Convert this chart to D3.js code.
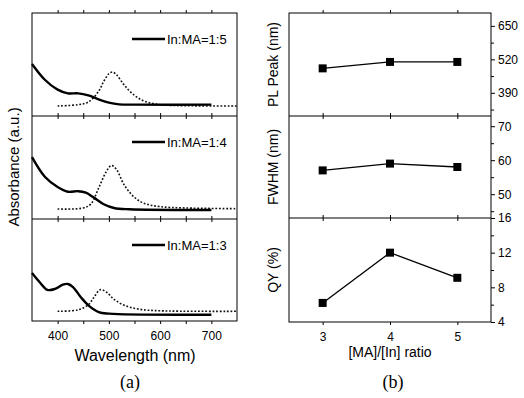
<!DOCTYPE html>
<html>
<head>
<meta charset="utf-8">
<script src="https://cdn.jsdelivr.net/npm/d3@7"></script>
<style>
body { margin: 0; background: #fff; }
svg { display: block; font-family: Arial, "Liberation Sans", sans-serif; }
</style>
</head>
<body>
<div id="chart"></div>
<script>
// panel (a): absorbance (solid) and PL (dotted) spectra, arbitrary units
var labels = ["In:MA=1:5", "In:MA=1:4", "In:MA=1:3"];
var absWl = [
    [350, 375, 400, 420, 440, 460, 480, 500, 520, 550, 700],
    [350, 375, 400, 420, 440, 455, 470, 490, 510, 540, 700],
    [350, 365, 380, 395, 410, 420, 430, 445, 460, 480, 500, 700]
];
var absVal = [
    [0.505, 0.352, 0.256, 0.22, 0.22, 0.20, 0.162, 0.13, 0.113, 0.11, 0.11],
    [0.60, 0.41, 0.31, 0.265, 0.27, 0.255, 0.21, 0.143, 0.107, 0.094, 0.087],
    [0.47, 0.38, 0.305, 0.315, 0.356, 0.363, 0.333, 0.235, 0.154, 0.088, 0.072, 0.062]
];
var plWl = [
    [400, 440, 460, 480, 490, 500, 507, 515, 530, 550, 570, 600, 650, 750],
    [400, 450, 465, 480, 495, 505, 515, 530, 550, 570, 600, 650, 750],
    [400, 440, 460, 470, 483, 495, 510, 530, 560, 600, 750]
];
var plVal = [
    [0.097, 0.11, 0.136, 0.24, 0.337, 0.41, 0.427, 0.40, 0.30, 0.20, 0.143, 0.11, 0.10, 0.097],
    [0.097, 0.107, 0.146, 0.30, 0.46, 0.52, 0.48, 0.33, 0.21, 0.15, 0.12, 0.107, 0.10],
    [0.095, 0.11, 0.16, 0.225, 0.307, 0.284, 0.213, 0.154, 0.115, 0.10, 0.095]
];
var wlTicks = [400, 500, 600, 700];

// panel (b): ratio dependence
var ratio = [3, 4, 5];
var plPeak = [485, 510, 510];
var fwhm = [57, 59, 58];
var qy = [6.2, 12, 9.1];
var bNames = ["PL Peak (nm)", "FWHM (nm)", "QY (%)"];
var bData = [plPeak, fwhm, qy];
var bDomains = [[300, 700], [43, 73], [4, 16]];
var bMajor = [[390, 520, 650], [50, 60, 70], [4, 8, 12, 16]];
var bMinor = [[325, 455, 585], [45, 55, 65], [6, 10, 14]];

var width = 524, height = 398;
var svg = d3.select("#chart").append("svg")
    .attr("width", width)
    .attr("height", height);

// ----- panel (a)
var aEdges = [13, 116, 219, 321];
var xA = d3.scaleLinear().domain([350, 750]).range([32, 237]);

for (var i = 0; i < 3; i++) {
    var y = d3.scaleLinear().domain([0, 1]).range([aEdges[i + 1], aEdges[i]]);
    var g = svg.append("g");
    var line = d3.line()
        .x(function(d) { return xA(d[0]); })
        .y(function(d) { return y(d[1]); })
        .curve(d3.curveCatmullRom.alpha(0.5));
    var solid = d3.zip(absWl[i], absVal[i]);
    var dotted = d3.zip(plWl[i], plVal[i]);
    g.append("path").datum(dotted).attr("d", line)
        .attr("fill", "none").attr("stroke", "#111")
        .attr("stroke-width", 1.6).attr("stroke-dasharray", "1.8,1.8");
    g.append("path").datum(solid).attr("d", line)
        .attr("fill", "none").attr("stroke", "#000")
        .attr("stroke-width", 2.4);

    // ticks inward top and bottom
    g.append("g").attr("transform", "translate(0," + aEdges[i] + ")")
        .call(d3.axisBottom(xA).tickValues(d3.range(400, 750, 50)).tickSize(-3).tickFormat(""))
        .call(function(s) { s.select(".domain").remove(); });
    g.append("g").attr("transform", "translate(0," + aEdges[i + 1] + ")")
        .call(d3.axisTop(xA).tickValues(d3.range(400, 750, 50)).tickSize(-3).tickFormat(""))
        .call(function(s) { s.select(".domain").remove(); });

    // legend
    var ly = aEdges[i] + 26;
    g.append("line").attr("x1", 132).attr("x2", 165).attr("y1", ly).attr("y2", ly)
        .attr("stroke", "#000").attr("stroke-width", 2.4);
    g.append("text").attr("x", 167).attr("y", ly).attr("dy", "0.36em")
        .style("font-size", "13px").text(labels[i]);
}
svg.append("rect").attr("x", 32).attr("y", 13).attr("width", 205).attr("height", 308)
    .attr("fill", "none").attr("stroke", "#000");
svg.selectAll(".adiv").data([116, 219]).enter().append("line")
    .attr("x1", 32).attr("x2", 237).attr("y1", function(d) { return d; }).attr("y2", function(d) { return d; })
    .attr("stroke", "#000");

svg.append("g").attr("transform", "translate(0,321)")
    .call(d3.axisBottom(xA).tickValues(wlTicks).tickSize(0).tickPadding(10))
    .call(function(s) {
        s.select(".domain").remove();
        s.selectAll("text").style("font-size", "12px").attr("fill", "#000").style("font-family", "Arial, sans-serif");
    });

svg.append("text").attr("transform", "translate(19,167) rotate(-90)")
    .attr("text-anchor", "middle").style("font-size", "15px").text("Absorbance (a.u.)");
svg.append("text").attr("x", 135).attr("y", 361)
    .attr("text-anchor", "middle").style("font-size", "16px").text("Wavelength (nm)");
svg.append("text").attr("x", 130).attr("y", 388)
    .attr("text-anchor", "middle").style("font-family", "'Liberation Serif', 'Times New Roman', serif")
    .style("font-size", "18px").text("(a)");

// ----- panel (b)
var bEdges = [13, 116, 218, 322];
var xB = d3.scaleLinear().domain([2.5, 5.5]).range([289, 491]);

for (var j = 0; j < 3; j++) {
    var yB = d3.scaleLinear().domain(bDomains[j]).range([bEdges[j + 1], bEdges[j]]);
    var gb = svg.append("g");
    var pts = d3.zip(ratio, bData[j]);
    gb.append("path").datum(pts)
        .attr("d", d3.line().x(function(d) { return xB(d[0]); }).y(function(d) { return yB(d[1]); }))
        .attr("fill", "none").attr("stroke", "#000").attr("stroke-width", 1.3);
    gb.selectAll("rect").data(pts).enter().append("rect")
        .attr("x", function(d) { return xB(d[0]) - 4; })
        .attr("y", function(d) { return yB(d[1]) - 4; })
        .attr("width", 8).attr("height", 8).attr("fill", "#000");

    gb.append("g").attr("transform", "translate(0," + bEdges[j] + ")")
        .call(d3.axisBottom(xB).tickValues(ratio).tickSize(-3).tickFormat(""))
        .call(function(s) { s.select(".domain").remove(); });
    gb.append("g").attr("transform", "translate(0," + bEdges[j + 1] + ")")
        .call(d3.axisTop(xB).tickValues(ratio).tickSize(-3).tickFormat(""))
        .call(function(s) { s.select(".domain").remove(); });

    // right axis
    gb.append("g").attr("transform", "translate(491,0)")
        .call(d3.axisRight(yB).tickValues(bMajor[j]).tickSize(4).tickPadding(3))
        .call(function(s) {
            s.select(".domain").remove();
            s.selectAll("text").style("font-size", "12px").attr("fill", "#000").style("font-family", "Arial, sans-serif");
        });
    gb.append("g").attr("transform", "translate(491,0)")
        .call(d3.axisRight(yB).tickValues(bMinor[j]).tickSize(3).tickFormat(""))
        .call(function(s) { s.select(".domain").remove(); });

    gb.append("text")
        .attr("transform", "translate(278," + (bEdges[j] + bEdges[j + 1]) / 2 + ") rotate(-90)")
        .attr("text-anchor", "middle").style("font-size", "14px").text(bNames[j]);
}
svg.append("rect").attr("x", 289).attr("y", 13).attr("width", 202).attr("height", 309)
    .attr("fill", "none").attr("stroke", "#000");
svg.selectAll(".bdiv").data([116, 218]).enter().append("line")
    .attr("x1", 289).attr("x2", 491).attr("y1", function(d) { return d; }).attr("y2", function(d) { return d; })
    .attr("stroke", "#000");

svg.append("g").attr("transform", "translate(0,322)")
    .call(d3.axisBottom(xB).tickValues(ratio).tickSize(0).tickPadding(10).tickFormat(d3.format("d")))
    .call(function(s) {
        s.select(".domain").remove();
        s.selectAll("text").style("font-size", "12px").attr("fill", "#000").style("font-family", "Arial, sans-serif");
    });
svg.append("text").attr("x", 390).attr("y", 357)
    .attr("text-anchor", "middle").style("font-size", "14px").text("[MA]/[In] ratio");
svg.append("text").attr("x", 393).attr("y", 388)
    .attr("text-anchor", "middle").style("font-family", "'Liberation Serif', 'Times New Roman', serif")
    .style("font-size", "18px").text("(b)");
</script>
</body>
</html>
